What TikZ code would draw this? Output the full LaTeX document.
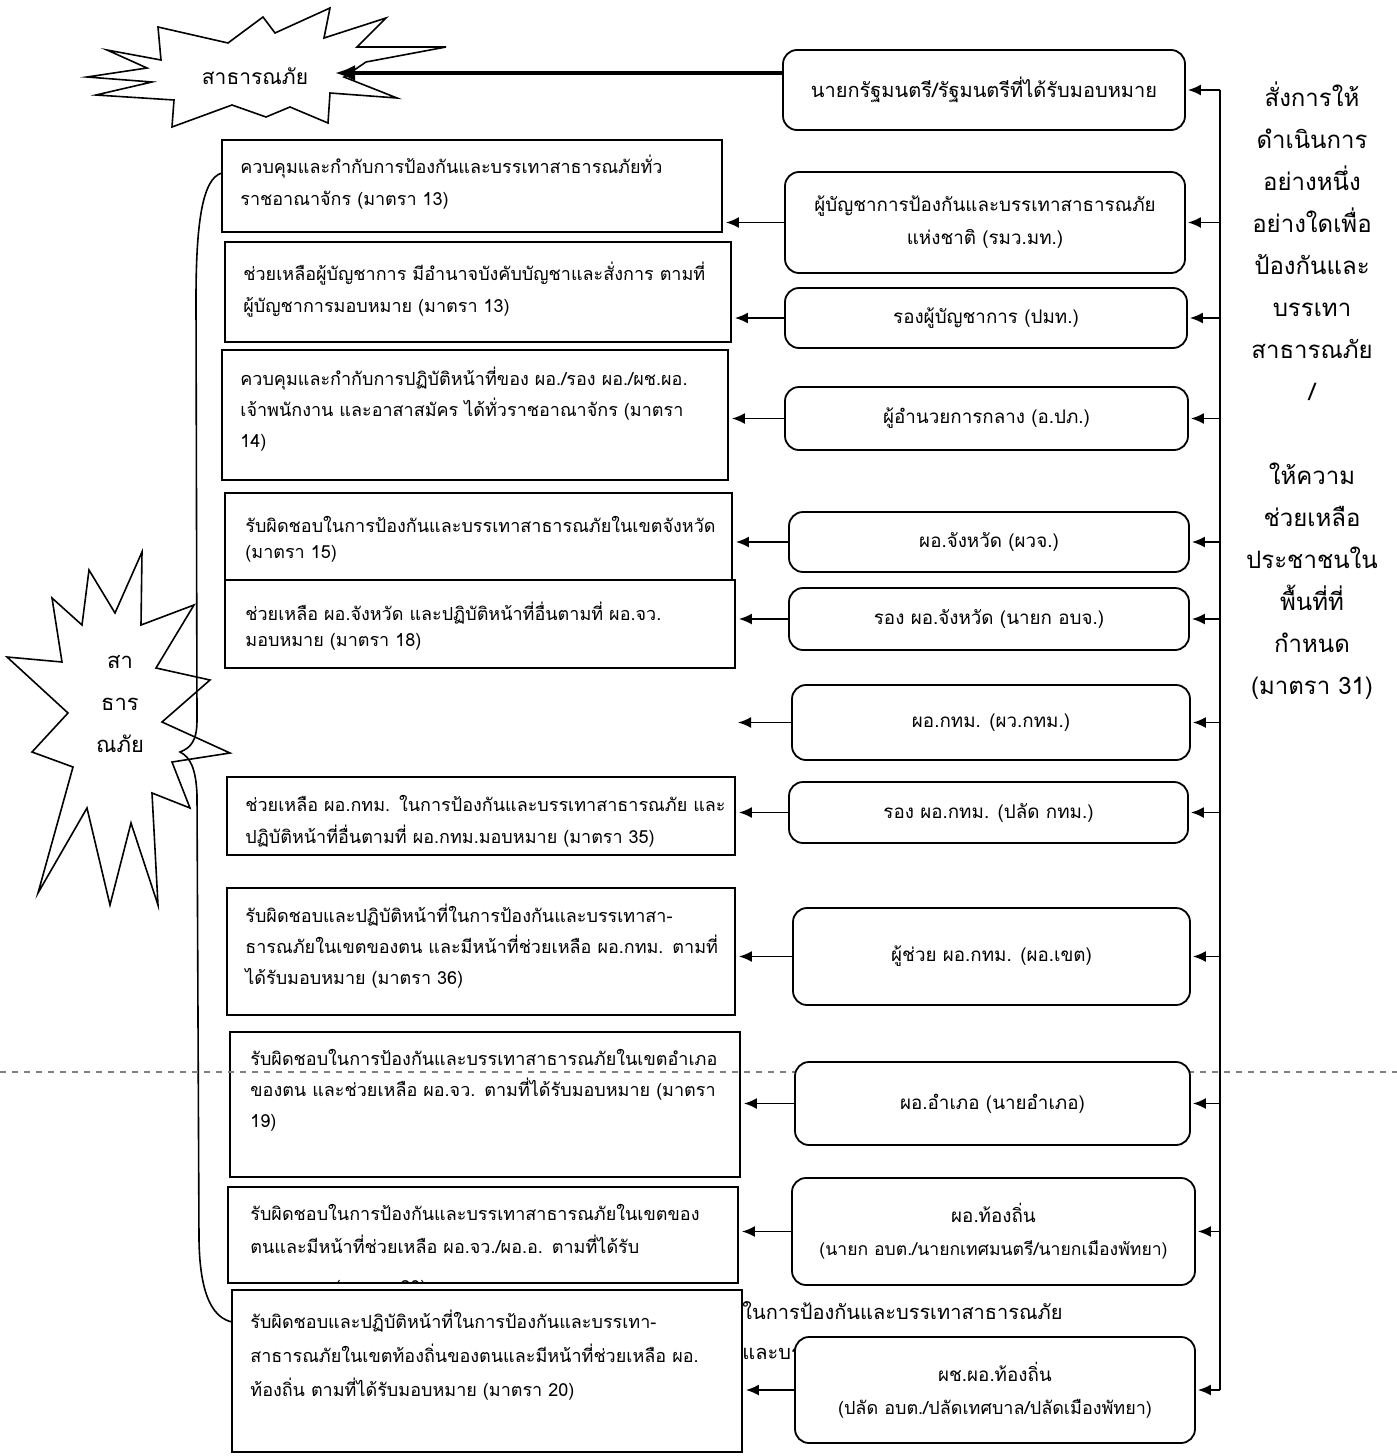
\documentclass[tikz,border=0pt]{standalone}
\usepackage{fontspec}
\setmainfont[Script=Thai]{Loma}
\usetikzlibrary{fit,arrows.meta}
\begin{document}
\begin{tikzpicture}[x=0.5pt,y=-0.5pt,
  lbox/.style={draw, line width=0.9pt, inner sep=0pt, fill=white},
  rbox/.style={draw, line width=0.9pt, rounded corners=7pt, inner sep=0pt, fill=white},
  ltxt/.style={anchor=base west, align=left, inner sep=0pt, text width=262pt, font=\fontsize{9}{#1}\selectfont},
  rtxt/.style={align=center, inner sep=0pt, font=\fontsize{9.4}{16.5}\selectfont},
  arr/.style={-{Latex[length=6.5pt,width=5.5pt]}, line width=0.9pt},
  starline/.style={line width=0.8pt, line join=miter},
  dashline/.style={gray, dashed, line width=0.6pt}
]
\useasboundingbox (0,0) rectangle (1397,1456);
\fill[white] (0,0) rectangle (1397,1456);

% starbursts
\draw[starline] (330,8) -- (324,38) -- (386,18) -- (357,47) -- (446,47) -- (366,62) -- (344,77) -- (397,98) -- (330,93) -- (328,123) -- (290,107) -- (266,117) -- (232,105) -- (172,127) -- (174,100) -- (96,95) -- (152,82) -- (87,77) -- (147,68) -- (107,50) -- (161,60) -- (158,27) -- (228,43) -- (263,17) -- (275,33) -- cycle;
\node[font=\fontsize{10.5}{12}\selectfont, inner sep=0pt] (S1) at (255,76) {สาธารณภัย};
\coordinate (S1tip) at (335,73);

\draw[starline] (142,552) -- (141,625) -- (194,605) -- (156,668) -- (210,680) -- (162,722) -- (230,753) -- (172,762) -- (190,808) -- (152,793) -- (158,905) -- (131,823) -- (110,905) -- (87,808) -- (38,893) -- (73,767) -- (32,752) -- (68,713) -- (7,657) -- (62,662) -- (52,598) -- (82,625) -- (89,570) -- (115,613) -- cycle;
\node[align=center, inner sep=0pt, font=\fontsize{11}{21}\selectfont] (S2) at (120,704) {สา\\ธาร\\ณภัย};

% brace
\draw[line width=0.8pt] (222,173) .. controls (202,178) and (196,225) .. (196,300) -- (197,720) .. controls (197,742) and (190,748) .. (180,752) .. controls (190,757) and (196,768) .. (197,795) -- (199,1240) .. controls (200,1300) and (215,1318) .. (232,1322);

% left boxes
\node[lbox, fit={(222,140) (722,232)}] (L1) {};
\node[lbox, fit={(225,242) (731,342)}] (L2) {};
\node[lbox, fit={(222,350) (728,480)}] (L3) {};
\node[lbox, fit={(225,493) (732,580)}] (L4) {};
\node[lbox, fit={(225,580) (735,668)}] (L5) {};
\node[lbox, fit={(227,777) (735,855)}] (L6) {};
\node[lbox, fit={(227,888) (735,1015)}] (L7) {};
\node[lbox, fit={(230,1032) (740,1177)}] (L8) {};

\node[ltxt=16] (L1t) at (240,173) {ควบคุมและกำกับการป้องกันและบรรเทาสาธารณภัยทั่ว\\ราชอาณาจักร (มาตรา 13)};
\node[ltxt=16] (L2t) at (243,280) {ช่วยเหลือผู้บัญชาการ มีอำนาจบังคับบัญชาและสั่งการ ตามที่\\ผู้บัญชาการมอบหมาย (มาตรา 13)};
\node[ltxt=15.5] (L3t) at (240,385) {ควบคุมและกำกับการปฏิบัติหน้าที่ของ ผอ./รอง ผอ./ผช.ผอ.\\เจ้าพนักงาน และอาสาสมัคร ได้ทั่วราชอาณาจักร (มาตรา\\14)};
\node[ltxt=13] (L4t) at (245,532) {รับผิดชอบในการป้องกันและบรรเทาสาธารณภัยในเขตจังหวัด\\(มาตรา 15)};
\node[ltxt=13] (L5t) at (245,620) {ช่วยเหลือ ผอ.จังหวัด และปฏิบัติหน้าที่อื่นตามที่ ผอ.จว.\\มอบหมาย (มาตรา 18)};
\node[ltxt=16] (L6t) at (245,811) {ช่วยเหลือ ผอ.กทม. ในการป้องกันและบรรเทาสาธารณภัย และ\\ปฏิบัติหน้าที่อื่นตามที่ ผอ.กทม.มอบหมาย (มาตรา 35)};
\node[ltxt=15.5] (L7t) at (245,922) {รับผิดชอบและปฏิบัติหน้าที่ในการป้องกันและบรรเทาสา-\\ธารณภัยในเขตของตน และมีหน้าที่ช่วยเหลือ ผอ.กทม. ตามที่\\ได้รับมอบหมาย (มาตรา 36)};
\node[ltxt=15.5] (L8t) at (250,1065) {รับผิดชอบในการป้องกันและบรรเทาสาธารณภัยในเขตอำเภอ\\ของตน และช่วยเหลือ ผอ.จว. ตามที่ได้รับมอบหมาย (มาตรา\\19)};

% dashed line
\draw[dashline] (0,1072) -- (1397,1072);

\node[lbox, fit={(228,1187) (738,1283)}] (L9) {};
\begin{scope}
\clip (228,1187) rectangle (738,1283);
\node[ltxt=16.5] (L9t) at (250,1220) {รับผิดชอบในการป้องกันและบรรเทาสาธารณภัยในเขตของ\\ตนและมีหน้าที่ช่วยเหลือ ผอ.จว./ผอ.อ. ตามที่ได้รับ\\[3.5pt]มอบหมาย (มาตรา 20)};
\end{scope}

% fragments of hidden text
\node[anchor=base west, inner sep=0pt, font=\fontsize{10}{12}\selectfont] (F1) at (742,1319) {ในการป้องกันและบรรเทาสาธารณภัย};
\node[anchor=base west, inner sep=0pt, font=\fontsize{10}{12}\selectfont] (F2) at (742,1359) {และบรรเทาสาธารณภัย};

\node[lbox, fit={(232,1290) (742,1452)}] (L10) {};
\node[ltxt=17] (L10t) at (250,1328) {รับผิดชอบและปฏิบัติหน้าที่ในการป้องกันและบรรเทา-\\สาธารณภัยในเขตท้องถิ่นของตนและมีหน้าที่ช่วยเหลือ ผอ.\\ท้องถิ่น ตามที่ได้รับมอบหมาย (มาตรา 20)};

% right boxes
\node[rbox, fit={(783,50) (1185,130)}] (R0) {};
\node[rbox, fit={(785,172) (1185,273)}] (R1) {};
\node[rbox, fit={(785,288) (1187,348)}] (R2) {};
\node[rbox, fit={(785,387) (1188,450)}] (R3) {};
\node[rbox, fit={(789,512) (1189,572)}] (R4) {};
\node[rbox, fit={(789,588) (1189,650)}] (R5) {};
\node[rbox, fit={(792,685) (1190,760)}] (R6) {};
\node[rbox, fit={(789,782) (1188,843)}] (R7) {};
\node[rbox, fit={(793,908) (1190,1005)}] (R8) {};
\node[rbox, fit={(795,1062) (1190,1145)}] (R9) {};
\node[rbox, fit={(792,1178) (1195,1285)}] (R10) {};
\node[rbox, fit={(795,1337) (1195,1443)}] (R11) {};

\node[rtxt, font=\fontsize{10}{16.5}\selectfont] (R0t) at (R0) {นายกรัฐมนตรี/รัฐมนตรีที่ได้รับมอบหมาย};
\node[rtxt] (R1t) at (R1) {ผู้บัญชาการป้องกันและบรรเทาสาธารณภัย\\แห่งชาติ (รมว.มท.)};
\node[rtxt] (R2t) at (R2) {รองผู้บัญชาการ (ปมท.)};
\node[rtxt] (R3t) at (R3) {ผู้อำนวยการกลาง (อ.ปภ.)};
\node[rtxt] (R4t) at (R4) {ผอ.จังหวัด (ผวจ.)};
\node[rtxt] (R5t) at (R5) {รอง ผอ.จังหวัด (นายก อบจ.)};
\node[rtxt] (R6t) at (R6) {ผอ.กทม. (ผว.กทม.)};
\node[rtxt] (R7t) at (R7) {รอง ผอ.กทม. (ปลัด กทม.)};
\node[rtxt] (R8t) at (R8) {ผู้ช่วย ผอ.กทม. (ผอ.เขต)};
\node[rtxt] (R9t) at (R9) {ผอ.อำเภอ (นายอำเภอ)};
\node[rtxt, font=\fontsize{8.8}{16.5}\selectfont] (R10t) at (R10) {{\fontsize{9.4}{16.5}\selectfont ผอ.ท้องถิ่น}\\(นายก อบต./นายกเทศมนตรี/นายกเมืองพัทยา)};
\node[rtxt, font=\fontsize{9}{16.5}\selectfont] (R11t) at (R11) {{\fontsize{9.4}{16.5}\selectfont ผช.ผอ.ท้องถิ่น}\\(ปลัด อบต./ปลัดเทศบาล/ปลัดเมืองพัทยา)};

% side text
\node[anchor=base, align=center, inner sep=0pt, text width=80pt, font=\fontsize{12}{21}\selectfont] (side) at (1312,106) {สั่งการให้\\ดำเนินการ\\อย่างหนึ่ง\\อย่างใดเพื่อ\\ป้องกันและ\\บรรเทา\\สาธารณภัย\\/\\~\\ให้ความ\\ช่วยเหลือ\\ประชาชนใน\\พื้นที่ที่\\กำหนด\\(มาตรา 31)};

% thick arrow to starburst
\draw[-{Latex[length=10pt,width=8pt]}, line width=1.6pt] ([yshift=8.5pt]R0.west) -- (S1tip);

% left arrows
\coordinate (R6end) at (738,0);
\draw[arr, shorten >=1.5pt] (R1.west) -- (R1.west -| L1.east);
\draw[arr, shorten >=1.5pt] (R2.west) -- (R2.west -| L2.east);
\draw[arr, shorten >=1.5pt] (R3.west) -- (R3.west -| L3.east);
\draw[arr, shorten >=1.5pt] (R4.west) -- (R4.west -| L4.east);
\draw[arr, shorten >=1.5pt] (R5.west) -- (R5.west -| L5.east);
\draw[arr] (R6.west) -- (R6.west -| R6end);
\draw[arr, shorten >=1.5pt] (R7.west) -- (R7.west -| L6.east);
\draw[arr, shorten >=1.5pt] (R8.west) -- (R8.west -| L7.east);
\draw[arr, shorten >=1.5pt] (R9.west) -- (R9.west -| L8.east);
\draw[arr, shorten >=1.5pt] (R10.west) -- (R10.west -| L9.east);
\draw[arr, shorten >=1.5pt] (R11.west) -- (R11.west -| L10.east);

% right bus
\coordinate (V) at (1220,0);
\draw[line width=0.8pt] (V |- R0.east) -- (V |- R11.east);
\foreach \r in {R0,R1,R2,R3,R4,R5,R6,R7,R8,R9,R10,R11}{
  \draw[arr, shorten >=1pt] (V |- \r.east) -- (\r.east);
}
\end{tikzpicture}
\end{document}
